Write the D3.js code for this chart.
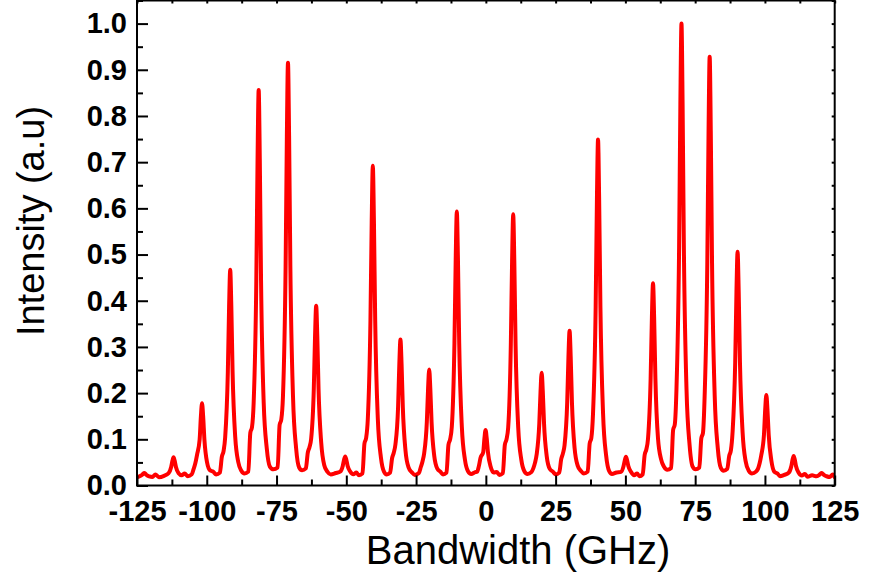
<!DOCTYPE html>
<html><head><meta charset="utf-8">
<script src="https://cdn.jsdelivr.net/npm/d3@7"></script>
<style>
body{margin:0;background:#fff}
text{font-family:"Liberation Sans",Arial,Helvetica,sans-serif;fill:#000}
</style>
</head><body>
<svg id="chart" width="872" height="574"></svg>
<script>
// ---- data ----
const xTickValues = [-125,-100,-75,-50,-25,0,25,50,75,100,125];
const yTickValues = [0.0,0.1,0.2,0.3,0.4,0.5,0.6,0.7,0.8,0.9,1.0];
// comb line positions (GHz)
const peakFreq = [-122.4,-111.9,-101.7,-91.6,-81.4,-70.9,-60.8,-50.4,-40.5,-30.6,-20.3,-10.4,-0.1,
                  9.8,20.0,30.0,40.2,50.2,59.9,70.1,80.2,90.2,100.5,110.3,120.3];
// peak intensities (a.u)
const peakHeight = [0.027,0.061,0.178,0.467,0.856,0.915,0.389,0.063,0.692,0.316,0.251,0.593,0.12,
                    0.587,0.244,0.335,0.749,0.062,0.438,1.0,0.928,0.506,0.196,0.064,0.027];
// small step on the low-frequency flank of each line (null = none)
const shoulderHeight = [null,null,0.036,0.062,0.114,0.131,0.071,null,0.091,0.059,0.04,0.088,0.03,
                        0.088,0.037,0.057,0.091,null,0.066,0.12,0.102,0.064,0.036,null,null];
// background level between neighbouring lines (26 values incl. both ends)
const troughHeight = [0.018,0.018,0.02,0.024,0.026,0.035,0.033,0.024,0.022,0.024,0.023,0.024,0.025,
                      0.023,0.025,0.024,0.026,0.025,0.02,0.034,0.035,0.032,0.026,0.02,0.019,0.018];

// ---- layout ----
const W = 872, H = 574;
const L = 137, R = 834.7, T = 0.5, B = 485.5;
const svg = d3.select("#chart");
svg.append("rect").attr("width",W).attr("height",H).attr("fill","#fff");

const x = d3.scaleLinear().domain([-125,125]).range([L,R]);
const y = d3.scaleLinear().domain([0,1.05]).range([B,T]);

// ---- trace vertices built from the readings ----
const pts = [[-125, troughHeight[0]]];
peakFreq.forEach((c,i)=>{
  const h = peakHeight[i], s = shoulderHeight[i];
  const bL = troughHeight[i], bR = troughHeight[i+1];
  const b = (bL+bR)/2, a = h-b;
  if (i>0) pts.push([(peakFreq[i-1]+c)/2, bL]);
  if (s!==null){
    pts.push([c-3.7, bL+0.004]);
    pts.push([c-3.0, s]);
    pts.push([c-2.4, s+0.012]);
    pts.push([c-1.8, Math.max(b+0.18*a, s+0.03)]);
  } else {
    pts.push([c-3.4, bL+0.003]);
    pts.push([c-1.8, b+0.18*a]);
  }
  pts.push([c-0.85, b+0.5*a]);
  pts.push([c-0.4, b+0.82*a]);
  pts.push([c, h]);
  pts.push([c+0.4, b+0.82*a]);
  pts.push([c+0.85, b+0.5*a]);
  pts.push([c+1.8, b+0.18*a]);
  pts.push([c+2.9, bR+0.055*a]);
  pts.push([c+4.0, bR+0.006]);
});
pts.push([125, troughHeight[troughHeight.length-1]]);
const trace = [];
pts.forEach(p=>{ if(!trace.length || p[0] > trace[trace.length-1][0]) trace.push(p); });

svg.append("clipPath").attr("id","clip").append("rect")
  .attr("x",L).attr("y",T).attr("width",R-L).attr("height",B-T);

svg.append("path").datum(trace)
  .attr("clip-path","url(#clip)")
  .attr("fill","none").attr("stroke","#ff0000").attr("stroke-width",4)
  .attr("stroke-linejoin","round").attr("stroke-linecap","round")
  .attr("d", d3.line().x(d=>x(d[0])).y(d=>y(d[1])).curve(d3.curveMonotoneX));

// ---- axes ----
const minorX = d3.range(-125,125.01,12.5);
const minorY = d3.range(0,1.0501,0.05);
const fmt = d3.format(".1f");

// bottom
svg.append("g").attr("transform",`translate(0,${B})`)
  .call(d3.axisBottom(x).tickValues(xTickValues).tickSize(-10).tickPadding(14.5).tickFormat(d=>String(d)));
svg.append("g").attr("transform",`translate(0,${B})`)
  .call(d3.axisBottom(x).tickValues(minorX.filter(v=>!xTickValues.includes(v))).tickSize(-6).tickFormat(""));
// left
svg.append("g").attr("transform",`translate(${L},0)`)
  .call(d3.axisLeft(y).tickValues(yTickValues).tickSize(-11).tickPadding(10).tickFormat(fmt));
svg.append("g").attr("transform",`translate(${L},0)`)
  .call(d3.axisLeft(y).tickValues(minorY.filter((v,i)=>i%2===1)).tickSize(-6).tickFormat(""));
// top
svg.append("g").attr("transform",`translate(0,${T})`)
  .call(d3.axisTop(x).tickValues(minorX).tickSize(-3).tickFormat(""));
// right
svg.append("g").attr("transform",`translate(${R},0)`)
  .call(d3.axisRight(y).tickValues(minorY).tickSize(-3).tickFormat(""));

svg.selectAll(".domain").remove();
svg.selectAll(".tick line").attr("stroke","#000").attr("stroke-width",2);
svg.selectAll(".tick text").attr("font-size",29).attr("font-weight","bold")
  .attr("font-family","'Liberation Sans',Arial,sans-serif").attr("fill","#000");

svg.append("rect").attr("x",L).attr("y",T).attr("width",R-L).attr("height",B-T)
  .attr("fill","none").attr("stroke","#000").attr("stroke-width",2);

// ---- titles ----
svg.append("text").attr("x",518).attr("y",564).attr("text-anchor","middle")
  .attr("font-size",40).text("Bandwidth (GHz)");
svg.append("text").attr("transform","translate(44,221) rotate(-90)").attr("text-anchor","middle")
  .attr("font-size",38).text("Intensity (a.u)");
</script>
</body></html>
